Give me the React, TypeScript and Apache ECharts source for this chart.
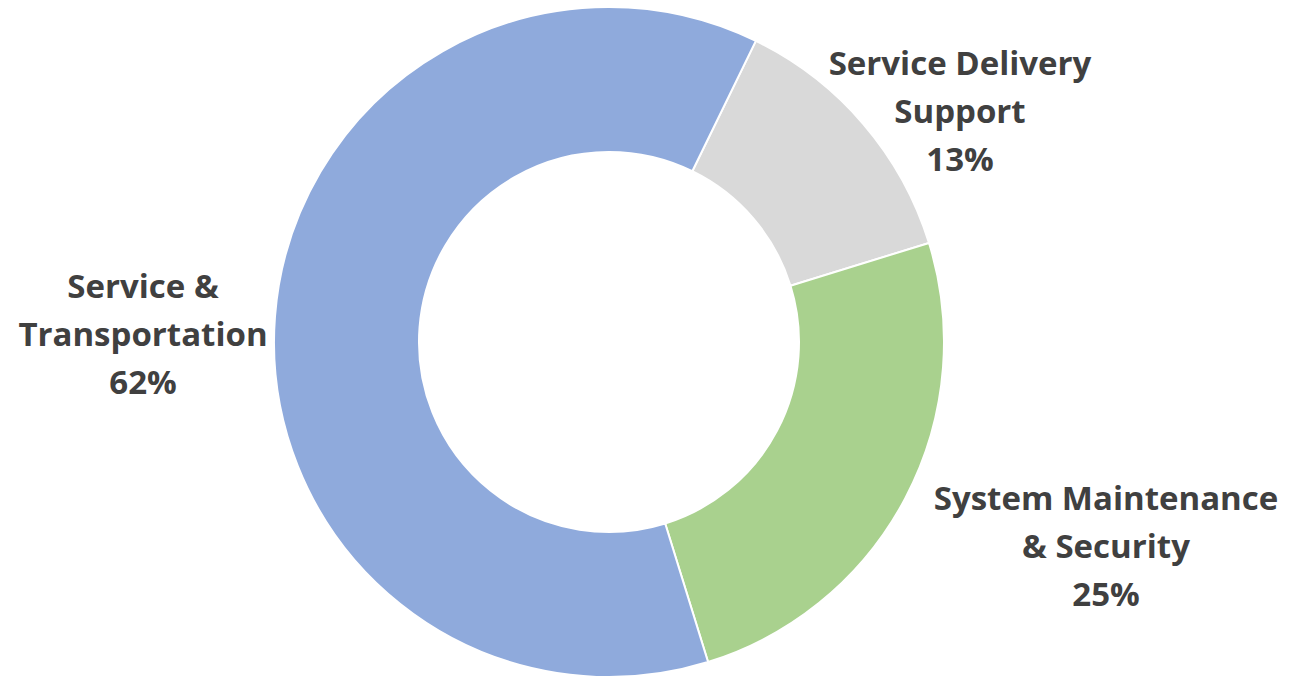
import React, { useEffect, useRef } from "react";
import * as echarts from "echarts";

const categories = ["Service Delivery\nSupport", "System Maintenance\n& Security", "Service &\nTransportation"];
const values = [13, 25, 62];
const colors = ["#D9D9D9", "#A9D18E", "#8FAADC"];
const labelCenters = [
  [960, 110],
  [1106, 545],
  [143, 333],
];

export default function App() {
  const ref = useRef<HTMLDivElement>(null);
  useEffect(() => {
    const chart = echarts.init(ref.current!, null, { renderer: "svg" });
    chart.setOption({
      animation: false,
      backgroundColor: "#ffffff",
      series: [
        {
          type: "pie",
          center: [609, 342],
          radius: [190, 335],
          startAngle: 64,
          clockwise: true,
          avoidLabelOverlap: false,
          itemStyle: { borderColor: "#ffffff", borderWidth: 2 },
          label: {
            show: true,
            position: "outside",
            formatter: (p: any) => `${p.name}\n${p.value}%`,
            fontFamily: "Open Sans",
            fontWeight: "bold",
            fontSize: 33,
            lineHeight: 48,
            color: "#404040",
            align: "center",
          },
          labelLine: { show: false },
          labelLayout: (params: any) => {
            const c = labelCenters[params.dataIndex];
            return { x: c[0], y: c[1], align: "center", verticalAlign: "middle" };
          },
          data: categories.map((name, i) => ({
            name,
            value: values[i],
            itemStyle: { color: colors[i] },
          })),
        },
      ],
    });
    return () => chart.dispose();
  }, []);
  return (
    <div
      ref={ref}
      style={{ position: "absolute", left: 0, top: 0, width: 1302, height: 679 }}
    />
  );
}
